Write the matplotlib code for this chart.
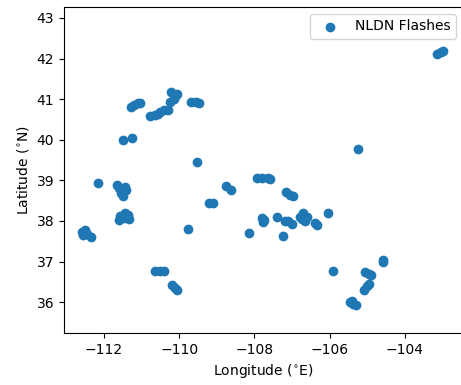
import numpy as np
import matplotlib
matplotlib.use("Agg")
import matplotlib.pyplot as plt

# flash locations (lon, lat)
lon = [
    -112.58, -112.50, -112.45, -112.35, -112.55,
    -112.16,
    -111.65, -111.60, -111.55, -111.42, -111.50, -111.45,
    -111.60, -111.58, -111.45, -111.35, -111.34, -111.47,
    -111.50, -111.26,
    -111.28, -111.20, -111.10, -111.04,
    -110.78, -110.65, -110.50, -110.40, -110.30, -110.55,
    -110.22, -110.09, -110.25, -110.15, -110.05,
    -109.69, -109.55, -109.48,
    -109.53,
    -110.65, -110.50, -110.40,
    -110.19, -110.12, -110.06,
    -109.77,
    -109.20, -109.10,
    -108.76, -108.63,
    -107.94, -107.80, -107.65, -107.59,
    -107.17, -107.05, -106.98,
    -108.15,
    -107.80, -107.78, -107.75,
    -107.40,
    -107.11, -107.00, -107.20,
    -106.79, -106.70, -106.60, -106.75, -106.65,
    -106.40, -106.35,
    -106.05,
    -107.25,
    -105.92,
    -105.25,
    -104.59, -104.58,
    -105.07, -104.97, -104.90,
    -105.10, -105.00, -104.95,
    -105.45, -105.38, -105.30, -105.40,
    -103.16, -103.05, -103.00,
]
lat = [
    37.72, 37.78, 37.68, 37.60, 37.66,
    38.93,
    38.88, 38.80, 38.70, 38.75, 38.62, 38.84,
    38.02, 38.12, 38.19, 38.15, 38.04, 38.06,
    39.99, 40.04,
    40.80, 40.85, 40.90, 40.91,
    40.58, 40.62, 40.68, 40.73, 40.72, 40.64,
    41.18, 41.10, 40.93, 41.00, 41.12,
    40.93, 40.92, 40.90,
    39.45,
    36.76, 36.77, 36.76,
    36.42, 36.35, 36.30,
    37.80,
    38.45, 38.44,
    38.86, 38.76,
    39.05, 39.05, 39.06, 39.03,
    38.72, 38.65, 38.62,
    37.70,
    38.08, 37.97, 38.02,
    38.10,
    38.00, 37.93, 38.00,
    38.10, 38.19, 38.10, 38.05, 38.00,
    37.95, 37.90,
    38.19,
    37.62,
    36.76,
    39.78,
    37.05, 36.98,
    36.74, 36.70, 36.66,
    36.30, 36.40, 36.45,
    36.00, 35.95, 35.93, 36.02,
    42.11, 42.16, 42.18,
]

fig = plt.figure(figsize=(4.61, 3.85), dpi=100)
ax = fig.add_axes([0.1388, 0.1351, 0.8655, 0.8468])

ax.scatter(lon, lat, label="NLDN Flashes")
ax.set_xlim(-113.06, -102.46)
ax.set_ylim(35.24, 43.27)
ax.set_xticks([-112, -110, -108, -106, -104])
ax.set_yticks([36, 37, 38, 39, 40, 41, 42, 43])
ax.set_xlabel("Longitude ($^{\\circ}$E)")
ax.set_ylabel("Latitude ($^{\\circ}$N)")
ax.legend(loc="upper right")

fig.savefig("out.png", dpi=100)
